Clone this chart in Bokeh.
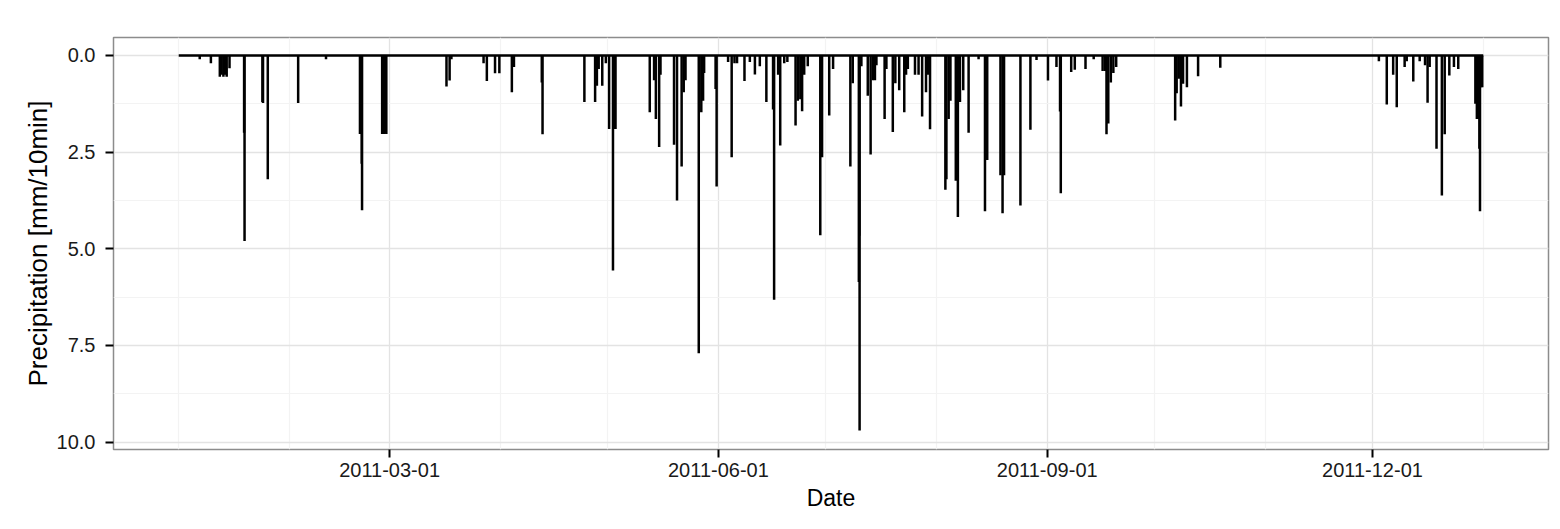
from datetime import datetime
import pandas as pd
from bokeh.plotting import figure
from bokeh.models import Range1d, FixedTicker, DatetimeTickFormatter, ColumnDataSource
from bokeh.embed import file_html
from bokeh.resources import INLINE

# ---- data: rainfall events (10-min precipitation peaks) ----
event_time = [
    "2011-01-06 21:00", "2011-01-10 00:00", "2011-01-12 12:00", "2011-01-13 00:00", "2011-01-13 12:00",
    "2011-01-14 00:00", "2011-01-14 10:00", "2011-01-15 05:00", "2011-01-19 07:00", "2011-01-19 10:00",
    "2011-01-24 10:00", "2011-01-24 14:00", "2011-01-25 22:00", "2011-02-03 10:00", "2011-02-11 05:00",
    "2011-02-20 17:00", "2011-02-20 22:00", "2011-02-21 05:00", "2011-02-21 07:00", "2011-02-26 22:00",
    "2011-02-27 05:00", "2011-02-27 12:00", "2011-02-27 19:00", "2011-02-28 02:00", "2011-03-16 22:00",
    "2011-03-17 19:00", "2011-03-18 07:00", "2011-03-27 07:00", "2011-03-28 05:00", "2011-03-30 12:00",
    "2011-03-31 17:00", "2011-04-04 05:00", "2011-04-04 19:00", "2011-04-12 14:00", "2011-04-12 19:00",
    "2011-04-24 12:00", "2011-04-27 12:00", "2011-04-28 00:00", "2011-04-28 12:00", "2011-04-29 12:00",
    "2011-04-30 12:00", "2011-05-01 10:00", "2011-05-02 12:00", "2011-05-02 22:00", "2011-05-03 05:00",
    "2011-05-12 19:00", "2011-05-14 00:00", "2011-05-14 12:00", "2011-05-15 10:00", "2011-05-15 19:00",
    "2011-05-19 14:00", "2011-05-20 10:00", "2011-05-21 17:00", "2011-05-22 07:00", "2011-05-22 19:00",
    "2011-05-26 12:00", "2011-05-27 05:00", "2011-05-27 17:00", "2011-05-28 00:00", "2011-05-31 05:00",
    "2011-05-31 12:00", "2011-06-03 17:00", "2011-06-04 17:00", "2011-06-05 12:00", "2011-06-06 05:00",
    "2011-06-08 07:00", "2011-06-09 19:00", "2011-06-11 05:00", "2011-06-12 14:00", "2011-06-14 10:00",
    "2011-06-16 07:00", "2011-06-16 14:00", "2011-06-17 17:00", "2011-06-18 07:00", "2011-06-19 10:00",
    "2011-06-20 07:00", "2011-06-22 14:00", "2011-06-23 05:00", "2011-06-23 22:00", "2011-06-24 10:00",
    "2011-06-25 00:00", "2011-06-26 00:00", "2011-06-29 12:00", "2011-06-30 00:00", "2011-07-02 00:00",
    "2011-07-03 02:00", "2011-07-07 22:00", "2011-07-08 14:00", "2011-07-10 07:00", "2011-07-10 10:00",
    "2011-07-10 12:00", "2011-07-11 00:00", "2011-07-12 19:00", "2011-07-13 14:00", "2011-07-14 05:00",
    "2011-07-14 19:00", "2011-07-15 05:00", "2011-07-17 12:00", "2011-07-18 00:00", "2011-07-19 19:00",
    "2011-07-20 12:00", "2011-07-21 14:00", "2011-07-23 00:00", "2011-07-23 12:00", "2011-07-24 00:00",
    "2011-07-26 00:00", "2011-07-27 00:00", "2011-07-28 00:00", "2011-07-29 02:00", "2011-07-29 14:00",
    "2011-07-30 05:00", "2011-08-03 12:00", "2011-08-03 19:00", "2011-08-04 10:00", "2011-08-04 22:00",
    "2011-08-06 10:00", "2011-08-07 00:00", "2011-08-07 14:00", "2011-08-08 12:00", "2011-08-10 00:00",
    "2011-08-12 19:00", "2011-08-14 14:00", "2011-08-15 05:00", "2011-08-18 22:00", "2011-08-19 12:00",
    "2011-08-19 22:00", "2011-08-24 12:00", "2011-08-27 07:00", "2011-08-29 00:00", "2011-09-01 05:00",
    "2011-09-03 14:00", "2011-09-04 14:00", "2011-09-04 19:00", "2011-09-07 17:00", "2011-09-08 17:00",
    "2011-09-11 17:00", "2011-09-14 00:00", "2011-09-16 12:00", "2011-09-17 05:00", "2011-09-17 14:00",
    "2011-09-18 02:00", "2011-09-18 19:00", "2011-09-19 12:00", "2011-09-20 07:00", "2011-10-06 19:00",
    "2011-10-07 05:00", "2011-10-07 19:00", "2011-10-08 10:00", "2011-10-09 00:00", "2011-10-10 02:00",
    "2011-10-13 05:00", "2011-10-19 10:00", "2011-12-02 19:00", "2011-12-05 00:00", "2011-12-06 19:00",
    "2011-12-07 19:00", "2011-12-10 00:00", "2011-12-10 14:00", "2011-12-12 10:00", "2011-12-14 05:00",
    "2011-12-15 17:00", "2011-12-16 10:00", "2011-12-17 00:00", "2011-12-18 22:00", "2011-12-20 10:00",
    "2011-12-21 05:00", "2011-12-22 12:00", "2011-12-23 19:00", "2011-12-25 00:00", "2011-12-29 19:00",
    "2011-12-30 05:00", "2011-12-30 14:00", "2011-12-30 22:00", "2011-12-31 02:00", "2011-12-31 10:00",
    "2011-12-31 17:00",
]
precip = [
    0.10, 0.20, 0.55, 0.50, 0.55,
    0.50, 0.55, 0.33, 2.00, 4.80,
    1.20, 1.23, 3.20, 1.23, 0.10,
    2.03, 2.03, 2.80, 4.00, 2.03,
    2.00, 2.03, 2.00, 2.03, 0.80,
    0.65, 0.10, 0.20, 0.66, 0.46,
    0.46, 0.95, 0.30, 0.70, 2.04,
    1.20, 1.20, 0.78, 0.35, 0.78,
    0.20, 1.90, 5.56, 1.90, 1.90,
    1.47, 0.64, 1.64, 2.37, 0.50,
    2.31, 3.75, 2.87, 0.95, 0.64,
    7.70, 1.47, 1.17, 0.45, 0.87,
    3.39, 0.17, 2.63, 0.20, 0.20,
    0.66, 0.17, 0.49, 0.28, 1.20,
    1.40, 6.32, 0.50, 2.33, 0.20,
    0.17, 1.81, 1.17, 1.13, 1.44,
    0.50, 0.28, 4.65, 2.63, 1.55,
    0.35, 2.87, 0.72, 5.86, 4.66,
    9.70, 0.28, 1.04, 2.56, 0.64,
    0.64, 0.25, 1.64, 0.35, 1.98,
    0.72, 0.90, 1.47, 0.50, 0.35,
    0.50, 0.50, 1.58, 0.95, 0.50,
    1.91, 3.47, 3.20, 1.64, 1.17,
    3.24, 4.18, 1.20, 0.90, 2.00,
    0.10, 4.03, 2.70, 3.10, 4.08,
    3.10, 3.88, 1.92, 0.12, 0.65,
    0.30, 1.45, 3.56, 0.43, 0.37,
    0.35, 0.10, 0.40, 0.40, 2.04,
    1.76, 0.70, 0.45, 0.30, 1.68,
    0.98, 0.60, 1.32, 0.73, 0.82,
    0.54, 0.32, 0.15, 1.27, 0.50,
    1.34, 0.30, 0.15, 0.67, 0.15,
    0.25, 1.22, 0.30, 2.41, 3.62,
    2.04, 0.52, 0.30, 0.35, 1.25,
    1.64, 1.64, 2.41, 4.03, 0.82,
    0.82,
]
series_span = ["2011-01-01 00:00", "2011-12-31 23:50"]
series_base = [0.0, 0.0]

x_tick_labels = ["2011-03-01", "2011-06-01", "2011-09-01", "2011-12-01"]
x_minor_months = ["2011-01-01", "2011-02-01", "2011-04-01", "2011-05-01", "2011-07-01",
                  "2011-08-01", "2011-10-01", "2011-11-01", "2012-01-01"]
y_ticks = [0, 2.5, 5, 7.5, 10]
y_tick_labels = ["0.0", "2.5", "5.0", "7.5", "10.0"]
y_minor = [1.25, 3.75, 6.25, 8.75]


def ms(s):
    return pd.Timestamp(s).value / 1e6


src = ColumnDataSource(data=dict(t=pd.to_datetime(event_time), v=precip))

FONT = "Liberation Sans"

p = figure(
    width=1560, height=529,
    x_axis_type="datetime",
    x_range=Range1d(start=datetime(2010, 12, 13, 18), end=datetime(2012, 1, 19, 6)),
    y_range=Range1d(start=10.19, end=-0.465),
    output_backend="svg", toolbar_location=None,
    min_border_left=113, min_border_right=12, min_border_top=37, min_border_bottom=80,
)
p.background_fill_color = "white"
p.border_fill_color = "white"
p.outline_line_color = "#8c8c8c"
p.outline_line_width = 1.5

# ticks / grid
xt = FixedTicker(ticks=[ms(s) for s in x_tick_labels], minor_ticks=[ms(s) for s in x_minor_months])
p.xaxis.ticker = xt
p.xgrid.ticker = xt
p.xaxis.formatter = DatetimeTickFormatter(
    milliseconds="%Y-%m-%d", seconds="%Y-%m-%d", minsec="%Y-%m-%d", minutes="%Y-%m-%d",
    hourmin="%Y-%m-%d", hours="%Y-%m-%d", days="%Y-%m-%d", months="%Y-%m-%d", years="%Y-%m-%d",
)
yt = FixedTicker(ticks=y_ticks, minor_ticks=y_minor)
p.yaxis.ticker = yt
p.ygrid.ticker = yt
p.yaxis.major_label_overrides = {t: lab for t, lab in zip(y_ticks, y_tick_labels)}

for g in (p.xgrid, p.ygrid):
    g.grid_line_color = "#e3e3e3"
    g.grid_line_width = 1.3
    g.minor_grid_line_color = "#f3f3f3"
    g.minor_grid_line_width = 1.2

for ax in (p.xaxis, p.yaxis):
    ax.axis_line_color = None
    ax.major_tick_line_color = "black"
    ax.major_tick_line_width = 2
    ax.major_tick_in = 0
    ax.major_tick_out = 8
    ax.minor_tick_line_color = None
    ax.major_label_text_font = FONT
    ax.major_label_text_font_size = "20px"
    ax.major_label_text_color = "#1a1a1a"
    ax.axis_label_text_font = FONT
    ax.axis_label_text_font_style = "normal"
    ax.axis_label_text_color = "black"

p.xaxis.axis_label = "Date"
p.xaxis.axis_label_text_font_size = "23px"
p.xaxis.major_label_standoff = 5
p.xaxis.axis_label_standoff = 5
p.yaxis.axis_label = "Precipitation [mm/10min]"
p.yaxis.axis_label_text_font_size = "26px"
p.yaxis.major_label_standoff = 10
p.yaxis.axis_label_standoff = 1

# baseline and spikes
p.line(x=pd.to_datetime(series_span), y=series_base, line_color="black", line_width=2.5)
p.segment(x0="t", y0=0, x1="t", y1="v", source=src, line_color="black", line_width=2.5)

open("out.html", "w").write(file_html(p, INLINE))
